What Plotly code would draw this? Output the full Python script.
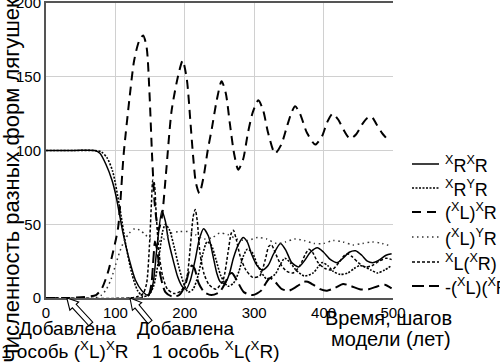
import math
import plotly.graph_objects as go

# ---- data ----
t_RR = [0, 40, 70, 78, 86, 95, 101, 111, 120, 129, 138, 146, 151, 155, 160, 167, 172, 176, 183, 190,
        196, 202, 208, 215, 221, 227, 234, 240, 246, 251, 258, 264, 270, 277, 284, 290, 296, 304, 312, 320,
        328, 338, 346, 354, 364, 372, 381, 391, 400, 410, 420, 428, 437, 446, 455, 463, 472, 481, 490, 498]
RR = [100, 100, 100, 98, 91, 80, 69, 44, 26, 12, 5, 2, 4, 12, 35, 59, 52, 40, 26, 14,
      8, 6, 12, 26, 40, 47, 42, 30, 17, 11, 10, 16, 27, 36, 41, 38, 30, 22, 19, 22,
      30, 37, 32, 24, 21, 25, 31, 34, 31, 26, 24, 27, 31, 32, 29, 25, 24, 26, 29, 30]

t_RY = [0, 40, 70, 80, 88, 96, 106, 115, 124, 132, 140, 148, 155, 162, 168, 172, 178, 185, 192, 199,
        205, 212, 219, 226, 232, 238, 245, 252, 262, 270, 278, 284, 290, 297, 305, 318, 330, 338, 344, 352,
        360, 372, 385, 392, 398, 406, 414, 424, 435, 444, 452, 460, 468, 478, 488, 498]
RY = [100, 100, 100, 99, 95, 86, 62, 36, 16, 5, 1, 2, 8, 25, 45, 50, 46, 34, 20, 9,
      4, 6, 15, 30, 38, 36, 26, 15, 8, 10, 18, 28, 33, 31, 22, 13, 16, 23, 27, 24,
      19, 15, 17, 21, 24, 22, 18, 16, 17, 20, 22, 21, 19, 17, 19, 22]

t_LX = [0, 30, 50, 62, 72, 80, 89, 97, 104, 112, 120, 127, 134, 140, 145, 149, 153, 157, 162, 167,
        173, 181, 191, 197, 203, 208, 212, 216, 221, 227, 233, 239, 246, 253, 259, 265, 271, 277, 284, 291,
        298, 306, 313, 320, 330, 339, 347, 354, 359, 366, 376, 388, 398, 405, 413, 421, 430, 438, 447, 456,
        463, 469, 476, 484, 491]
LX = [0, 0, 0.5, 1, 2, 6, 17, 32, 48, 98, 134, 161, 174, 178, 170, 140, 95, 62, 46, 55,
      85, 127, 152, 161, 148, 120, 96, 78, 71, 82, 100, 115, 134, 147, 139, 118, 98, 87, 94, 112,
      126, 134, 127, 112, 98, 104, 116, 126, 130, 125, 112, 104, 110, 119, 125, 121, 113, 108, 111, 118,
      122, 123, 118, 112, 108]

t_LY = [0, 70, 80, 87, 94, 100, 106, 113, 120, 128, 135, 143, 150, 160, 170, 180, 192, 205, 215, 228,
        240, 250, 262, 275, 290, 305, 318, 332, 345, 358, 372, 386, 400, 414, 428, 442, 456, 470, 484, 498]
LY = [0, 0, 2, 6, 13, 22, 31, 39, 44, 47, 46, 43, 40, 38, 40, 44, 45, 45, 43, 40,
      41, 44, 43, 40, 39, 41, 40, 37, 38, 40, 39, 37, 37, 39, 38, 36, 37, 38, 37, 35]

t_LR = [0, 120, 132, 140, 145, 149, 152, 154, 156, 159, 163, 168, 175, 185, 195, 203, 208, 212, 215, 218,
        222, 228, 235, 245, 255, 262, 267, 270, 274, 280, 288, 298, 308, 316, 321, 325, 330, 338, 347, 356,
        366, 374, 379, 384, 392, 402, 412, 422, 430, 435, 441, 450, 460, 470, 480, 490, 498]
LR = [0, 0, 1, 3, 10, 35, 65, 80, 78, 55, 30, 15, 6, 3, 5, 14, 35, 55, 60, 52,
      30, 16, 9, 6, 12, 30, 44, 46, 40, 28, 19, 14, 15, 26, 35, 36, 31, 23, 18, 17,
      22, 30, 33, 31, 24, 20, 19, 24, 29, 30, 28, 24, 21, 22, 25, 27, 26]

t_LL = [0, 140, 148, 152, 155, 157, 160, 165, 172, 182, 192, 200, 206, 210, 214, 220, 228, 238, 250, 258,
        264, 268, 275, 285, 298, 310, 318, 323, 330, 340, 350, 362, 372, 377, 385, 395, 405, 417, 428, 440,
        452, 465, 478, 488, 498]
LL = [0, 0, 2, 10, 28, 38, 33, 15, 4, 1, 2, 8, 18, 22, 20, 10, 4, 2, 4, 10,
      16, 17, 12, 4, 2, 5, 11, 13.5, 11, 6, 5, 8, 11, 11, 9, 6, 5, 7, 9.5, 8,
      6, 6, 8, 9, 6.5]

names = [
    "<sup>X</sup>R<sup>X</sup>R",
    "<sup>X</sup>R<sup>Y</sup>R",
    "(<sup>X</sup>L)<sup>X</sup>R",
    "(<sup>X</sup>L)<sup>Y</sup>R",
    "<sup>X</sup>L(<sup>X</sup>R)",
    "-(<sup>X</sup>L)(<sup>X</sup>R)",
]
x_ticks = [0, 100, 200, 300, 400, 500]
y_ticks = [0, 50, 100, 150, 200]
x_range = [0, 500]
y_range = [0, 200]
# times at which single individuals were added (arrow targets)
added_at = [30, 121]

FONT = "Liberation Sans, Arial, sans-serif"

styles = [
    dict(color="black", width=1.5, dash="solid"),
    dict(color="black", width=1.6, dash="2px,1.5px"),
    dict(color="black", width=2, dash="9px,6px"),
    dict(color="#333333", width=1.5, dash="1.5px,3.5px"),
    dict(color="black", width=1.5, dash="3px,2px"),
    dict(color="black", width=2, dash="12px,5px"),
]
series = [(t_RR, RR), (t_RY, RY), (t_LX, LX), (t_LY, LY), (t_LR, LR), (t_LL, LL)]

# ---- geometry ----
W, H = 500, 363
ML, MR, MT, MB = 46, 107, 3, 65
PW, PH = W - ML - MR, H - MT - MB


def px2paper(px, py):
    return (px - ML) / PW, (H - MB - py) / PH


def data2px(x, y):
    return (ML + PW * (x - x_range[0]) / (x_range[1] - x_range[0]),
            H - MB - PH * (y - y_range[0]) / (y_range[1] - y_range[0]))


fig = go.Figure()
for (t, v), nm, ln in zip(series, names, styles):
    fig.add_trace(go.Scatter(x=t, y=v, mode="lines", name=nm, showlegend=False,
                             line=dict(shape="spline", smoothing=0.7, **ln)))

fig.update_layout(
    width=W, height=H,
    margin=dict(l=ML, r=MR, t=MT, b=MB),
    paper_bgcolor="white", plot_bgcolor="white",
    font=dict(family=FONT, color="black", size=15),
    showlegend=False,
    xaxis=dict(range=x_range, tickvals=x_ticks, showgrid=True, gridcolor="#d0d0d0", gridwidth=1,
               showline=True, linecolor="#555555", linewidth=2, mirror=True, zeroline=False,
               ticks="", tickfont=dict(size=15), automargin=False, ticklabeloverflow="allow"),
    yaxis=dict(range=y_range, tickvals=y_ticks, showgrid=True, gridcolor="#d0d0d0", gridwidth=1,
               showline=True, linecolor="#555555", linewidth=2, zeroline=False,
               ticks="", tickfont=dict(size=15), automargin=False, ticklabeloverflow="allow"),
)

ann = []
shapes = []


def text_at(txt, px, py, size, **kw):
    xp, yp = px2paper(px, py)
    d = dict(text=txt, x=xp, y=yp, xref="paper", yref="paper", showarrow=False,
             xanchor="center", yanchor="middle", font=dict(size=size))
    d.update(kw)
    ann.append(d)


# manual legend (to the right of the plot, runs to the page edge like the original)
leg_rows = [164, 188, 212, 237, 262, 286]
for nm, ln, ry in zip(names, styles, leg_rows):
    x0, y0 = px2paper(412, ry)
    x1, _ = px2paper(439, ry)
    shapes.append(dict(type="line", xref="paper", yref="paper", x0=x0, x1=x1, y0=y0, y1=y0,
                       line=dict(color=ln["color"], width=ln["width"], dash=ln["dash"])))
    text_at(nm, 443, ry, 18, xanchor="left")

# y title
text_at("Численность разных форм лягушек", 11, 181, 22, textangle=-90)
# x title
text_at("Время, шагов", 388, 318, 20)
text_at("модели (лет)", 391, 339, 20)
# notes
text_at("Добавлена", 67, 329, 19)
text_at("1 особь (<sup>X</sup>L)<sup>X</sup>R", 64, 350, 19)
text_at("Добавлена", 185, 329, 19)
text_at("1 особь <sup>X</sup>L(<sup>X</sup>R)", 215, 350, 19)

# hollow arrows pointing to the moments of addition
for tx, (dx, dy) in zip(added_at, [(24, 26), (20, 24)]):
    tipx, tipy = data2px(tx, 0)
    L = math.hypot(dx, dy)
    ux, uy = dx / L, dy / L
    nx, ny = -uy, ux
    head_len, head_hw, shaft_hw = 11, 6, 2.6
    bx, by = tipx + head_len * ux, tipy + head_len * uy
    ex, ey = tipx + L * ux, tipy + L * uy
    pts = [(tipx, tipy),
           (bx + head_hw * nx, by + head_hw * ny),
           (bx + shaft_hw * nx, by + shaft_hw * ny),
           (ex + shaft_hw * nx, ey + shaft_hw * ny),
           (ex - shaft_hw * nx, ey - shaft_hw * ny),
           (bx - shaft_hw * nx, by - shaft_hw * ny),
           (bx - head_hw * nx, by - head_hw * ny)]
    path = "M " + " L ".join("%.4f,%.4f" % px2paper(*p) for p in pts) + " Z"
    shapes.append(dict(type="path", xref="paper", yref="paper", path=path,
                       fillcolor="white", line=dict(color="black", width=1.1), layer="above"))

fig.update_layout(annotations=ann, shapes=shapes)

fig.write_html("out.html", config={"displayModeBar": False},
               post_script="document.body.style.margin='0';")
